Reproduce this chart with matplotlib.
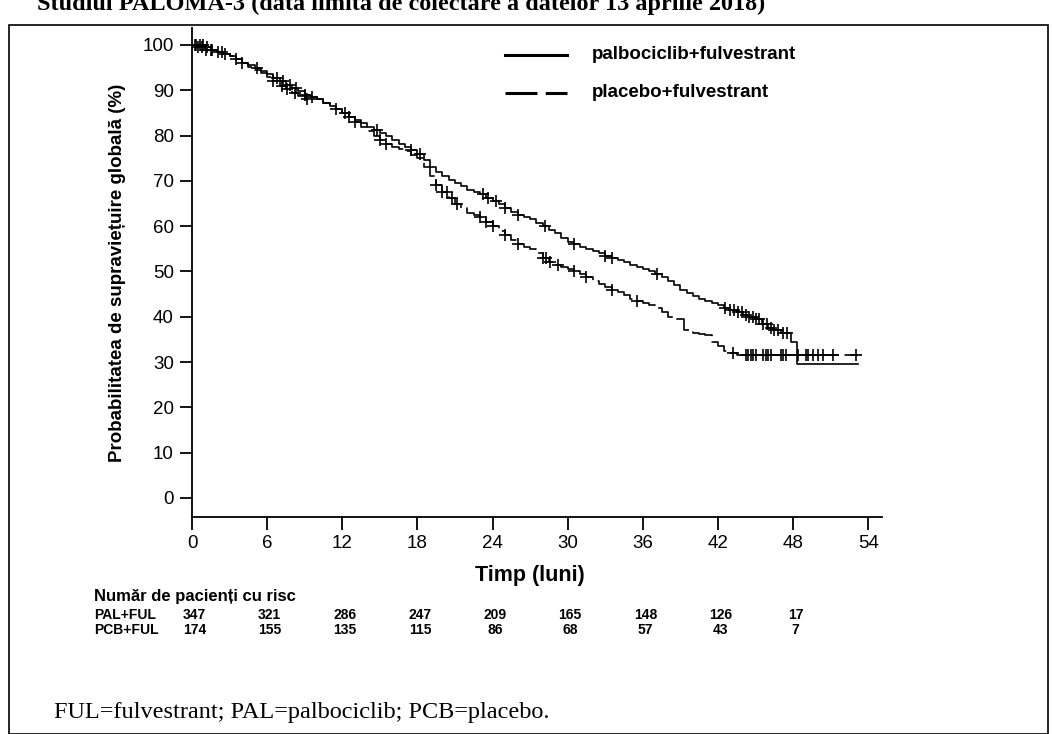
import numpy as np
import matplotlib
matplotlib.use("Agg")
import matplotlib.pyplot as plt
from matplotlib import transforms
from matplotlib.patches import Rectangle

# Kaplan-Meier steps (time in months, survival in %)
pal_t = [0, 0.5, 1, 1.5, 2, 2.5, 3, 3.5, 4, 4.5, 5, 5.5, 6, 6.5, 7, 7.5, 8, 8.5, 9, 9.5,
         10, 10.5, 11, 11.5, 12, 12.5, 13, 13.5, 14, 14.5, 15, 15.5, 16, 16.5, 17, 17.5,
         18, 18.5, 19, 19.5, 20, 20.5, 21, 21.5, 22, 22.5, 23, 23.5, 24, 24.5, 25, 25.5,
         26, 26.5, 27, 27.5, 28, 28.5, 29, 29.5, 30, 30.5, 31, 31.5, 32, 32.5, 33, 33.5,
         34, 34.5, 35, 35.5, 36, 36.5, 37, 37.5, 38, 38.5, 39, 39.5, 40, 40.5, 41, 41.5,
         42, 42.5, 43, 43.5, 44, 44.5, 45, 45.5, 46, 46.5, 47, 47.8, 48.3, 53.2]
pal_s = [100, 100, 99.5, 99, 98.5, 98, 97.5, 96.8, 96, 95.5, 95, 94.2, 93.5, 92.8, 92, 91.2,
         90.5, 89.8, 89, 88.5, 88, 87.2, 86.5, 85.8, 85, 84.2, 83.5, 82.8, 82, 81.2, 80.5,
         79.8, 79, 78.2, 77.5, 76.8, 76, 74.5, 73, 72, 71, 70.2, 69.5, 68.8, 68, 67.5, 67,
         66.2, 65.5, 64.8, 64, 63.2, 62.5, 62, 61.5, 60.8, 60, 59.2, 58.5, 57.5, 56.5, 56,
         55.5, 55, 54.5, 54, 53.5, 53, 52.5, 52, 51.5, 51, 50.5, 50, 49.5, 48.8, 48, 47, 46,
         45.2, 44.5, 44, 43.5, 43, 42.5, 42, 41.5, 41, 40.5, 40, 39.5, 38.5, 37.5, 37, 36.5,
         34.5, 29.5, 29.5]

pcb_t = [0, 0.5, 1, 1.5, 2, 2.5, 3, 3.5, 4, 4.5, 5, 5.5, 6, 6.5, 7, 7.5, 8, 8.5, 9, 10.5,
         11, 11.5, 12, 12.5, 13, 13.5, 14, 14.5, 15, 15.5, 16, 16.5, 17, 17.5, 18, 18.5, 19,
         19.5, 20, 20.5, 21, 21.5, 22, 22.5, 23, 23.5, 24, 24.5, 25, 25.5, 26, 26.5, 27,
         27.5, 28, 28.5, 29, 29.5, 30, 30.5, 31, 31.5, 32, 32.5, 33, 33.5, 34, 34.5, 35,
         35.5, 36, 36.5, 37, 37.5, 38, 38.5, 39.3, 40, 40.5, 41, 41.5, 42, 42.5, 43, 43.5, 53.2]
pcb_s = [100, 99.5, 99, 98.8, 98.5, 98, 97.5, 96.8, 96, 95.2, 94.5, 93.8, 93, 92, 91, 90.2,
         89.5, 88.8, 88, 87.2, 86.5, 85.8, 85, 84, 83, 82, 81, 80, 79, 78.2, 77.5, 77, 76.5,
         75.8, 75, 73, 71, 69.2, 67.5, 66.2, 65, 64, 63, 62.5, 62, 61, 60, 59, 58, 57, 56,
         55.5, 55, 54, 53, 52.2, 51.5, 51, 50.5, 50, 49.5, 48.8, 48, 47.2, 46.5, 46, 45.5,
         44.8, 44, 43.5, 43, 42.5, 42, 41, 40, 39.5, 37, 36.5, 36.2, 36, 34.5, 33.5, 32.5,
         32, 31.5, 31.5]

# censored observations (months)
pal_cens = [0.3, 0.6, 0.9, 1.2, 1.6, 2.1, 2.6, 3.5, 5.2, 6.8, 7.3, 7.8, 8.3, 9.0, 9.6, 11.5,
            12.2, 14.8, 17.5, 18.2, 23.2, 23.6, 24.3, 25.0, 26.0, 28.2, 30.5, 33.0, 33.5,
            37.1, 42.6, 43.0, 43.3, 43.6, 43.9, 44.2, 44.5, 44.8, 45.0, 45.3, 45.6, 45.9,
            46.2, 46.5, 46.8, 47.2, 47.5]
pcb_cens = [0.2, 0.5, 0.8, 1.1, 1.5, 2.4, 4.0, 6.5, 7.2, 7.6, 8.2, 9.2, 12.5, 13.0, 15.0,
            15.5, 19.5, 20.0, 20.4, 20.8, 21.2, 23.0, 23.5, 24.0, 25.0, 26.0, 28.0, 28.3,
            28.6, 29.2, 30.5, 31.5, 33.5, 35.5, 43.2, 44.2, 44.4, 44.6, 44.8, 45.0, 45.6,
            45.8, 46.0, 46.2, 47.0, 47.2, 47.4, 48.4, 49.0, 49.2, 49.6, 50.0, 50.4, 51.2, 53.0]

risk_times = [0, 6, 12, 18, 24, 30, 36, 42, 48]
risk_pal = [347, 321, 286, 247, 209, 165, 148, 126, 17]
risk_pcb = [174, 155, 135, 115, 86, 68, 57, 43, 7]

W, H = 1052, 734
fig = plt.figure(figsize=(W / 100, H / 100), dpi=100)
plt.rcParams['lines.scale_dashes'] = False

def px(x, y):
    return x / W, 1 - y / H

# frame around the figure block
fig.patches.append(Rectangle(px(9, 734), (1048 - 9) / W, (734 - 25) / H,
                             transform=fig.transFigure, fill=False, ec='black', lw=1.2))

l, t = px(192, 28)
r, b = px(882, 517)
ax = fig.add_axes([l, b, r - l, t - b])

def step_at(times, surv, x):
    i = np.searchsorted(times, x, side='right') - 1
    return np.array(surv)[i]

ax.plot(pal_t, pal_s, drawstyle='steps-post', color='black', lw=1.2)
ax.plot(pcb_t, pcb_s, drawstyle='steps-post', color='black', lw=1.2,
        linestyle=(0, (17, 4)))
ax.plot(pal_cens, step_at(pal_t, pal_s, pal_cens), '+', color='black', ms=8, mew=1.2)
ax.plot(pcb_cens, step_at(pcb_t, pcb_s, pcb_cens), '+', color='black', ms=8, mew=1.2)

ax.set_xlim(0, 55.1)
ax.set_ylim(-4.2, 103.75)
ax.set_xticks(range(0, 55, 6))
ax.set_yticks(range(0, 101, 10))
ax.spines['top'].set_visible(False)
ax.spines['right'].set_visible(False)
for s in ('left', 'bottom'):
    ax.spines[s].set_linewidth(1.3)
ax.tick_params(direction='out', length=9, width=1.3, labelsize=13.5, pad=4)
for lab in ax.get_xticklabels() + ax.get_yticklabels():
    lab.set_fontfamily('Liberation Sans')

ax.set_ylabel('Probabilitatea de supraviețuire globală (%)', fontsize=13.5,
              fontweight='bold', family='Liberation Sans', labelpad=12)

# legend
ax.plot([0.4536, 0.5435], [0.945, 0.945], transform=ax.transAxes, color='black', lw=2.2)
ax.plot([0.4536, 0.5435], [0.868, 0.868], transform=ax.transAxes, color='black', lw=2.2,
        linestyle=(0, (23, 6)))
ax.text(0.58, 0.945, 'palbociclib+fulvestrant', transform=ax.transAxes, va='center',
        fontsize=13.5, fontweight='bold', family='Liberation Sans')
ax.text(0.58, 0.868, 'placebo+fulvestrant', transform=ax.transAxes, va='center',
        fontsize=13.5, fontweight='bold', family='Liberation Sans')

fig.text(*px(530, 575), 'Timp (luni)', ha='center', va='center', fontsize=15.5,
         fontweight='bold', family='Liberation Sans')

# numbers at risk
fig.text(*px(94, 597), 'Număr de pacienți cu risc', ha='left', va='center',
         fontsize=12, fontweight='bold', family='Liberation Sans')
fig.text(*px(94, 615), 'PAL+FUL', ha='left', va='center', fontsize=10,
         fontweight='bold', family='Liberation Sans')
fig.text(*px(94, 630), 'PCB+FUL', ha='left', va='center', fontsize=10,
         fontweight='bold', family='Liberation Sans')
trans = transforms.blended_transform_factory(ax.transData, fig.transFigure)
for tm, a, c in zip(risk_times, risk_pal, risk_pcb):
    ax.text(tm + 0.2, 1 - 615 / H, str(a), transform=trans, ha='center', va='center',
            fontsize=10, fontweight='bold', family='Liberation Sans', clip_on=False)
    ax.text(tm + 0.2, 1 - 630 / H, str(c), transform=trans, ha='center', va='center',
            fontsize=10, fontweight='bold', family='Liberation Sans', clip_on=False)

# document title (cut at top) and footnote
fig.text(*px(37, 10), 'Studiul PALOMA-3 (data limită de colectare a datelor 13 aprilie 2018)',
         ha='left', va='baseline', fontsize=17.5, fontweight='bold', family='Liberation Serif')
fig.text(*px(54, 718), 'FUL=fulvestrant; PAL=palbociclib; PCB=placebo.', ha='left',
         va='baseline', fontsize=17.5, family='Liberation Serif')

fig.savefig('out.png', dpi=100)
